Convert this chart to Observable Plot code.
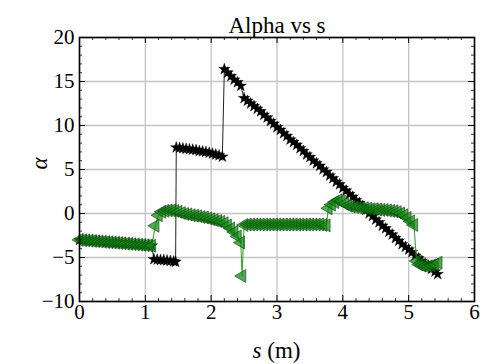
<!DOCTYPE html>
<html>
<head>
<meta charset="utf-8">
<script src="https://cdn.jsdelivr.net/npm/d3@7"></script>
<script src="https://cdn.jsdelivr.net/npm/@observablehq/plot@0.6"></script>
<style>
  html, body { margin: 0; padding: 0; background: #fff; }
  #chart svg { display: block; }
</style>
</head>
<body>
<div id="chart"></div>
<script>
// ---- data ----
const titleText = "Alpha vs s";
const xTicks = [0, 1, 2, 3, 4, 5, 6];
const yTicks = [-10, -5, 0, 5, 10, 15, 20];
const xMinor = [0.2,0.4,0.6,0.8,1.2,1.4,1.6,1.8,2.2,2.4,2.6,2.8,3.2,3.4,3.6,3.8,4.2,4.4,4.6,4.8,5.2,5.4,5.6,5.8];
const yMinor = [-9,-8,-7,-6,-4,-3,-2,-1,1,2,3,4,6,7,8,9,11,12,13,14,16,17,18,19];

// black series (stars)
const sBlack = [
  0.00,0.05,0.10,0.15,0.20,0.25,0.30,0.35,0.40,0.45,0.50,0.55,0.60,0.65,0.70,0.75,0.80,0.85,0.90,0.95,1.00,1.05,1.10,
  1.13,1.18,1.23,1.28,1.33,1.38,1.43,1.46,
  1.47,1.52,1.57,1.62,1.67,1.72,1.77,1.82,1.87,1.92,1.97,2.02,2.07,2.12,2.17,
  2.20,2.25,2.30,2.35,2.40,2.45,2.50,2.55,2.60,2.65,2.70,2.75,2.80,2.85,2.90,2.95,3.00,3.05,3.10,3.15,3.20,3.25,
  3.30,3.35,3.40,3.45,3.50,3.55,3.60,3.65,3.70,3.75,3.80,3.85,3.90,3.95,4.00,4.05,4.10,4.15,4.20,4.25,4.30,4.35,
  4.40,4.45,4.50,4.55,4.60,4.65,4.70,4.75,4.80,4.85,4.90,4.95,5.00,5.05,5.10,5.15,5.20,5.25,5.30,5.35,5.40,5.44
];
const alphaBlack = [
  -3.00,-3.03,-3.06,-3.09,-3.12,-3.15,-3.18,-3.21,-3.24,-3.27,-3.30,-3.33,-3.36,-3.39,-3.42,-3.45,-3.48,-3.51,-3.54,-3.57,-3.60,-3.63,-3.66,
  -5.20,-5.25,-5.30,-5.30,-5.35,-5.40,-5.45,-5.50,
  7.50,7.45,7.40,7.35,7.30,7.25,7.20,7.10,7.05,7.00,6.90,6.80,6.70,6.60,6.45,
  16.4,16.0,15.6,15.2,14.9,14.5,13.1,12.8,12.5,12.2,11.9,11.6,11.2,10.9,10.5,10.2,9.8,9.5,9.1,8.8,8.4,8.1,
  7.8,7.4,7.1,6.7,6.4,6.0,5.7,5.4,5.0,4.7,4.3,4.0,3.6,3.3,2.9,2.6,2.2,1.9,1.5,1.2,0.8,0.4,
  0.0,-0.3,-0.7,-1.0,-1.4,-1.7,-2.1,-2.4,-2.8,-3.1,-3.5,-3.8,-4.1,-4.4,-4.8,-5.1,-5.4,-5.7,-6.0,-6.3,-6.6,-6.9
];

// green series (left-pointing triangles)
const sGreen = [
  0.00,0.05,0.10,0.15,0.20,0.25,0.30,0.35,0.40,0.45,0.50,0.55,0.60,0.65,0.70,0.75,0.80,0.85,0.90,0.95,1.00,1.05,1.10,
  1.15,1.20,1.25,1.30,1.35,1.40,1.45,1.50,1.55,1.60,1.65,1.70,1.75,1.80,1.85,1.90,1.95,2.00,2.05,2.10,2.15,2.20,
  2.25,2.30,2.35,2.40,2.45,2.47,2.50,
  2.55,2.60,2.65,2.70,2.75,2.80,2.85,2.90,2.95,3.00,3.05,3.10,3.15,3.20,3.25,3.30,3.35,3.40,3.45,3.50,3.55,3.60,3.65,3.70,3.75,
  3.78,3.83,3.88,3.93,3.98,4.03,4.08,4.13,4.18,4.23,4.28,4.33,4.38,4.43,4.48,4.53,4.58,4.63,4.68,4.73,4.78,4.83,4.88,4.93,4.98,5.03,5.08,
  5.12,5.16,5.20,5.25,5.30,5.35,5.40,5.45
];
const alphaGreen = [
  -3.00,-3.03,-3.06,-3.09,-3.12,-3.15,-3.18,-3.21,-3.24,-3.27,-3.30,-3.33,-3.36,-3.39,-3.42,-3.45,-3.48,-3.51,-3.54,-3.57,-3.60,-3.63,-3.66,
  -1.40,-0.20,0.20,0.30,0.35,0.35,0.30,0.20,0.05,-0.05,-0.10,-0.20,-0.25,-0.30,-0.40,-0.45,-0.55,-0.65,-0.75,-0.85,-0.95,-1.10,
  -1.35,-1.70,-2.10,-2.60,-3.30,-7.10,-1.30,
  -1.25,-1.25,-1.25,-1.25,-1.25,-1.25,-1.25,-1.25,-1.25,-1.25,-1.25,-1.25,-1.25,-1.25,-1.25,-1.25,-1.25,-1.25,-1.25,-1.25,-1.25,-1.25,-1.25,-1.30,-1.35,
  0.60,1.00,1.30,1.50,1.40,1.10,0.90,0.80,0.75,0.70,0.65,0.60,0.55,0.50,0.50,0.45,0.40,0.40,0.35,0.30,0.25,0.15,0.00,-0.20,-0.50,-0.90,-1.30,
  -5.40,-5.80,-5.90,-6.00,-6.00,-5.90,-5.80,-5.60
];

const black = sBlack.map((s, i) => ({s, a: alphaBlack[i]}));
const green = sGreen.map((s, i) => ({s, a: alphaGreen[i]}));

// ---- layout ----
const W = 493, H = 364;
const mT = 37, mR = 19, mB = 63, mL = 79;
const pw = W - mL - mR, ph = H - mT - mB;
const font = "Liberation Serif";
const majorLen = 6, minorLen = 3;
const tickFont = 21, titleFont = 23, labelFont = 23;
const fmt = d => (d < 0 ? "\u2212" + Math.abs(d) : String(d));

const chart = Plot.plot({
  width: W, height: H,
  marginTop: mT, marginRight: mR, marginBottom: mB, marginLeft: mL,
  style: {fontFamily: font, background: "#fff", color: "#000"},
  x: {domain: [0, 6], axis: null},
  y: {domain: [-10, 20], axis: null},
  marks: [
    Plot.gridX(xTicks, {stroke: "#c4c4c4", strokeOpacity: 1, strokeWidth: 1.3}),
    Plot.gridY(yTicks, {stroke: "#c4c4c4", strokeOpacity: 1, strokeWidth: 1.3}),
    // black series
    Plot.line(black, {x: "s", y: "a", stroke: "#222", strokeWidth: 1}),
    Plot.dot(black, {x: "s", y: "a", symbol: "star", r: 3.6, fill: "#000", stroke: "#000", strokeWidth: 0.4}),
    // green series
    Plot.line(green, {x: "s", y: "a", stroke: "#3aa53a", strokeWidth: 1.1}),
    Plot.dot(green, {x: "s", y: "a", symbol: "triangle", rotate: -90, r: 4.8, fill: "#118811", fillOpacity: 0.72, stroke: "#0a3d0a", strokeWidth: 0.6}),
    // inward ticks on all four sides
    Plot.ruleX(xTicks, {insetTop: ph - majorLen, stroke: "#000", strokeWidth: 1}),
    Plot.ruleX(xTicks, {insetBottom: ph - majorLen, stroke: "#000", strokeWidth: 1}),
    Plot.ruleX(xMinor, {insetTop: ph - minorLen, stroke: "#000", strokeWidth: 0.8}),
    Plot.ruleX(xMinor, {insetBottom: ph - minorLen, stroke: "#000", strokeWidth: 0.8}),
    Plot.ruleY(yTicks, {insetRight: pw - majorLen, stroke: "#000", strokeWidth: 1}),
    Plot.ruleY(yTicks, {insetLeft: pw - majorLen, stroke: "#000", strokeWidth: 1}),
    Plot.ruleY(yMinor, {insetRight: pw - minorLen, stroke: "#000", strokeWidth: 0.8}),
    Plot.ruleY(yMinor, {insetLeft: pw - minorLen, stroke: "#000", strokeWidth: 0.8}),
    Plot.frame({stroke: "#000", strokeWidth: 1.6}),
    // tick labels
    Plot.text(xTicks, {x: d => d, frameAnchor: "bottom", dy: 3, lineAnchor: "top", textAnchor: "middle",
                       fontSize: tickFont, fontFamily: font, fill: "#000", text: fmt}),
    Plot.text(yTicks, {y: d => d, frameAnchor: "left", dx: -5, lineAnchor: "middle", textAnchor: "end",
                       fontSize: tickFont, fontFamily: font, fill: "#000", text: fmt}),
    // title and y label
    Plot.text([titleText], {frameAnchor: "top", dy: -5, lineAnchor: "bottom", fontSize: titleFont, fontFamily: font, fill: "#000", text: d => d}),
    Plot.text(["α"], {frameAnchor: "left", dx: -40, rotate: -90, fontSize: labelFont, fontFamily: font, fontStyle: "italic", fill: "#000", text: d => d})
  ]
});

// x label with italic s
const svg = d3.select(chart);
const xl = svg.append("text")
  .attr("x", mL + pw / 2)
  .attr("y", H - 6)
  .attr("text-anchor", "middle")
  .attr("font-family", font)
  .attr("font-size", labelFont)
  .attr("fill", "#000");
xl.append("tspan").attr("font-style", "italic").text("s");
xl.append("tspan").text(" (m)");

document.getElementById("chart").appendChild(chart);
</script>
</body>
</html>
